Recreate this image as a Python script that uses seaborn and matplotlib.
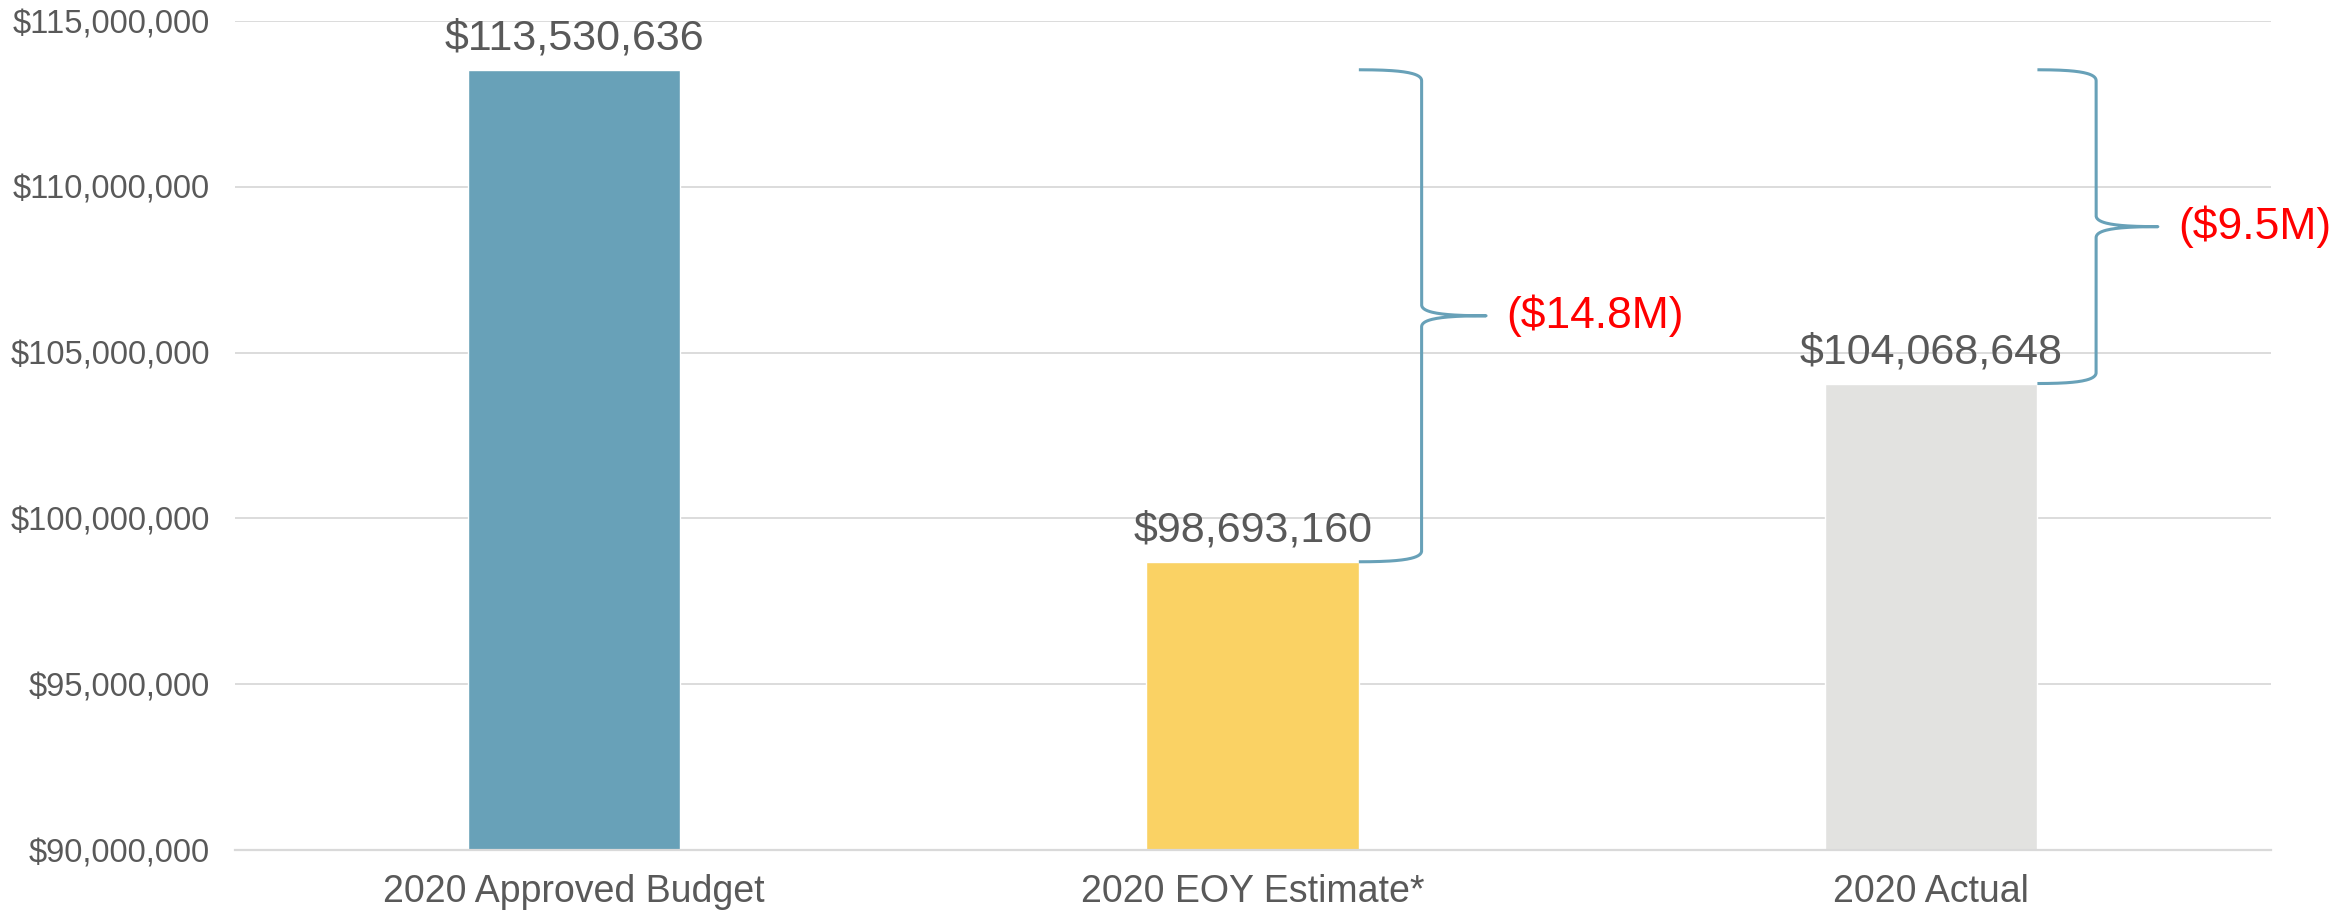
import numpy as np
import pandas as pd
import matplotlib
matplotlib.use("Agg")
import matplotlib.pyplot as plt
from matplotlib.ticker import FuncFormatter, MultipleLocator
import seaborn as sns

categories = ["2020 Approved Budget", "2020 EOY Estimate*", "2020 Actual"]
values = [113530636, 98693160, 104068648]
bar_colors = ["#68A1B8", "#FAD264", "#E2E2E0"]

# braces: compare each later bar to the approved budget
brace_from = [0, 0]
brace_to = [1, 2]
brace_labels = ["($14.8M)", "($9.5M)"]

TEXT = "#595959"
GRID = "#D9D9D9"
BRACE = "#68A1B8"


def draw_brace(ax, x0, y_top, y_bot, spine_dx, tip_dx, d):
    """Curly brace opening to the left, spine at x0+spine_dx, tip at x0+tip_dx."""
    xs = x0 + spine_dx
    xt = x0 + tip_dx
    ym = (y_top + y_bot) / 2
    t = np.linspace(0, 1, 40)[:, None]

    def bez(p0, p1, p2, p3):
        p0, p1, p2, p3 = map(np.array, (p0, p1, p2, p3))
        return ((1 - t) ** 3) * p0 + 3 * ((1 - t) ** 2) * t * p1 + 3 * (1 - t) * t ** 2 * p2 + t ** 3 * p3

    seg1 = bez((x0, y_top), (x0 + 0.6 * (xs - x0), y_top), (xs, y_top - 0.2 * d), (xs, y_top - d))
    seg2 = bez((xs, ym + d), (xs, ym + 0.2 * d), (xs + 0.4 * (xt - xs), ym), (xt, ym))
    seg3 = bez((xt, ym), (xs + 0.4 * (xt - xs), ym), (xs, ym - 0.2 * d), (xs, ym - d))
    seg4 = bez((xs, y_bot + d), (xs, y_bot + 0.2 * d), (x0 + 0.6 * (xs - x0), y_bot), (x0, y_bot))
    pts = np.vstack([seg1, seg2, seg3, seg4])
    ax.plot(pts[:, 0], pts[:, 1], color=BRACE, lw=2.2, solid_capstyle="butt", clip_on=False)
    return xt, ym


sns.set_theme(style="whitegrid")
plt.rcParams["font.family"] = ["Liberation Sans", "DejaVu Sans"]

df = pd.DataFrame({"category": categories, "value": values})

fig = plt.figure(figsize=(23.48, 9.15), dpi=100)
ax = fig.add_axes([0.100, 0.071, 0.867, 0.906])

sns.barplot(data=df, x="category", y="value", hue="category",
            palette=bar_colors, width=0.313, legend=False, ax=ax,
            saturation=1)

ax.set_ylim(90_000_000, 115_000_000)
ax.set_xlim(-0.5, 2.5)
ax.yaxis.set_major_locator(MultipleLocator(5_000_000))
ax.yaxis.set_major_formatter(FuncFormatter(lambda v, p: f"${v:,.0f}"))
ax.grid(axis="y", color=GRID, lw=1.3)
ax.grid(axis="x", visible=False)
ax.set_axisbelow(True)
for s in ["top", "left", "right"]:
    ax.spines[s].set_visible(False)
ax.spines["bottom"].set_color(GRID)
ax.spines["bottom"].set_linewidth(1.6)
ax.set_xlabel("")
ax.set_ylabel("")
ax.tick_params(axis="y", labelsize=23.5, labelcolor=TEXT, length=0, pad=18)
ax.tick_params(axis="x", labelsize=27, labelcolor=TEXT, length=0, pad=17)

for cont in ax.containers:
    ax.bar_label(cont, labels=[f"${v:,.0f}" for v in cont.datavalues],
                 padding=8, fontsize=31, color=TEXT)

half = 0.313 / 2
brace_spines = [0.249 - half, 0.243 - half]
brace_tips = [0.344 - half, 0.334 - half]
for i, (a, b) in enumerate(zip(brace_from, brace_to)):
    xt, ym = draw_brace(ax, b + half, values[a], values[b],
                        brace_spines[i], brace_tips[i], 330_000)
    ax.text(xt + 0.03, ym, brace_labels[i], color="#FF0000", fontsize=32,
            va="center", ha="left")

fig.savefig("out.png", dpi=100)
